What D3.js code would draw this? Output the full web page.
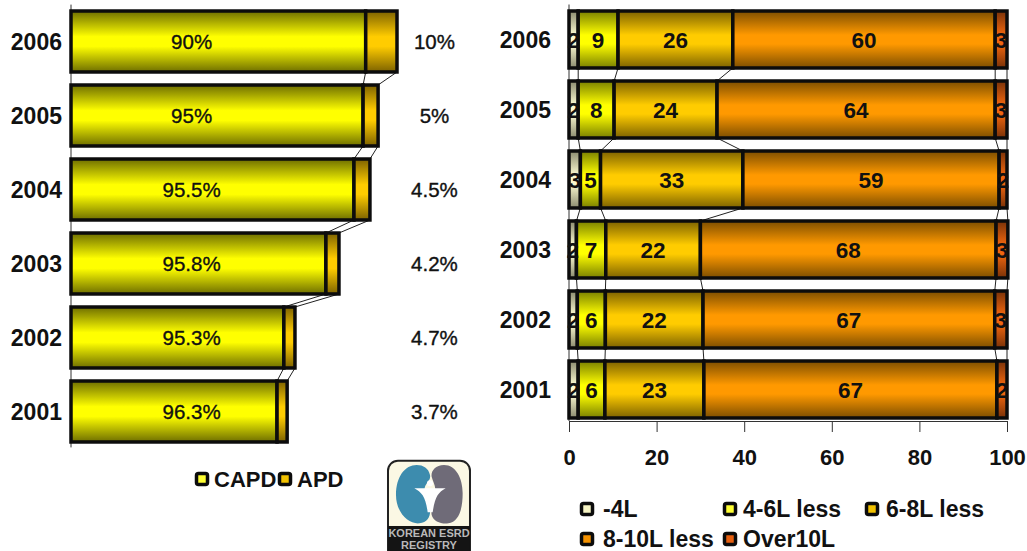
<!DOCTYPE html>
<html>
<head>
<meta charset="utf-8">
<script src="https://cdn.jsdelivr.net/npm/d3@7"></script>
<style>
  html, body { margin: 0; padding: 0; background: #fff; overflow: hidden; }
  text { font-family: "Liberation Sans", Arial, sans-serif; fill: #111; }
  .bold { font-weight: bold; }
  .medium { stroke: #111; stroke-width: 0.35px; }
</style>
</head>
<body>
<svg id="chart"></svg>
<script>
const years = ["2006", "2005", "2004", "2003", "2002", "2001"];

// left chart, bar lengths relative to the 2006 bar
const capdValues = [90.4, 89.6, 86.8, 78.2, 65.3, 63.2];
const apdValues = [9.6, 4.6, 4.9, 4.0, 3.4, 3.1];
const capdLabels = ["90%", "95%", "95.5%", "95.8%", "95.3%", "96.3%"];
const apdLabels = ["10%", "5%", "4.5%", "4.2%", "4.7%", "3.7%"];
const leftNames = ["CAPD", "APD"];

// right chart, labels on the bars are these values rounded
const volumeNames = ["-4L", "4-6L less", "6-8L less", "8-10L less", "Over10L"];
const under4 = [2.1, 2.1, 2.6, 1.7, 1.9, 2.1];
const from4to6 = [9.1, 8.2, 4.6, 6.7, 6.4, 6.1];
const from6to8 = [26.2, 23.5, 32.5, 21.6, 22.3, 22.6];
const from8to10 = [59.9, 63.5, 58.5, 67.5, 66.6, 66.9];
const over10 = [2.7, 2.7, 1.8, 2.7, 2.8, 2.3];
const xTicks = [0, 20, 40, 60, 80, 100];

const width = 1027;
const height = 551;

const svg = d3.select("#chart")
    .attr("width", width)
    .attr("height", height)
    .style("display", "block");

// bars are shaded dark at the edges, bright in the middle
const defs = svg.append("defs");
function addGradient(id, bright, dark) {
  const g = defs.append("linearGradient")
      .attr("id", id)
      .attr("x1", 0).attr("y1", 0).attr("x2", 0).attr("y2", 1);
  g.append("stop").attr("offset", "0%").attr("stop-color", dark);
  g.append("stop").attr("offset", "42%").attr("stop-color", bright);
  g.append("stop").attr("offset", "58%").attr("stop-color", bright);
  g.append("stop").attr("offset", "100%").attr("stop-color", dark);
}
addGradient("capd", "#ffff00", "#6e6e00");
addGradient("apd", "#ffcc00", "#7d6200");
addGradient("v0", "#fbf9cf", "#8a8a6e");
addGradient("v1", "#ffff00", "#7a8000");
addGradient("v2", "#ffcc00", "#7d6200");
addGradient("v3", "#ff9900", "#7d4e00");
addGradient("v4", "#f0660f", "#7a3208");

const swatchColors = {
  capd: "#ffff33", apd: "#f2c200",
  v0: "#f6f4c4", v1: "#ffff33", v2: "#f2c200", v3: "#f59200", v4: "#e8600f"
};

function drawStack(g, series, x, y, fills) {
  // thin series lines between the bars
  series.forEach(s => {
    for (let i = 0; i < years.length - 1; i++) {
      g.append("line")
          .attr("x1", x(s[i][1]))
          .attr("x2", x(s[i + 1][1]))
          .attr("y1", y(years[i]) + y.bandwidth())
          .attr("y2", y(years[i + 1]))
          .attr("stroke", "#222")
          .attr("stroke-width", 1);
    }
  });

  series.forEach((s, k) => {
    g.append("g").selectAll("rect")
      .data(s)
      .join("rect")
        .attr("x", d => x(d[0]))
        .attr("y", (d, i) => y(years[i]))
        .attr("width", d => x(d[1]) - x(d[0]))
        .attr("height", y.bandwidth())
        .attr("fill", "url(#" + fills[k] + ")")
        .attr("stroke", "#0c0c0c")
        .attr("stroke-width", 3.5);
  });
}

function drawYears(g, y, xPos) {
  g.append("g").selectAll("text")
    .data(years)
    .join("text")
      .attr("class", "bold")
      .attr("x", xPos)
      .attr("y", d => y(d) + y.bandwidth() / 2)
      .attr("dy", "0.36em")
      .attr("text-anchor", "end")
      .style("font-size", "23px")
      .text(d => d);
}

function drawSwatch(g, cx, cy, fill) {
  g.append("rect")
      .attr("x", cx - 5.5)
      .attr("y", cy - 5.5)
      .attr("width", 11)
      .attr("height", 11)
      .attr("rx", 2)
      .attr("fill", swatchColors[fill])
      .attr("stroke", "#0c0c0c")
      .attr("stroke-width", 3.5);
}

// ---- left chart
const leftRows = years.map((d, i) => ({ year: d, CAPD: capdValues[i], APD: apdValues[i] }));
const leftSeries = d3.stack().keys(leftNames)(leftRows);

const xLeft = d3.scaleLinear().domain([0, 100]).range([71, 397]);
const yLeft = d3.scaleBand().domain(years).range([4.5, 448.5])
    .paddingInner(0.176).paddingOuter(0.088);

const left = svg.append("g");

left.append("line")
    .attr("x1", xLeft(0)).attr("x2", xLeft(0))
    .attr("y1", 4.6).attr("y2", 447.4)
    .attr("stroke", "#333");

drawStack(left, leftSeries, xLeft, yLeft, ["capd", "apd"]);
drawYears(left, yLeft, 62);

left.append("g").selectAll("text")
  .data(capdLabels)
  .join("text")
    .attr("class", "medium")
    .attr("x", xLeft(37))
    .attr("y", (d, i) => yLeft(years[i]) + yLeft.bandwidth() / 2)
    .attr("dy", "0.36em")
    .attr("text-anchor", "middle")
    .style("font-size", "20.5px")
    .text(d => d);

left.append("g").selectAll("text")
  .data(apdLabels)
  .join("text")
    .attr("class", "medium")
    .attr("x", xLeft(111.5))
    .attr("y", (d, i) => yLeft(years[i]) + yLeft.bandwidth() / 2)
    .attr("dy", "0.36em")
    .attr("text-anchor", "middle")
    .style("font-size", "20.5px")
    .text(d => d);

// left legend
const leftLegendX = [202, 285];
leftNames.forEach((name, i) => {
  drawSwatch(left, leftLegendX[i], 479, i === 0 ? "capd" : "apd");
  left.append("text")
      .attr("class", "bold")
      .attr("x", leftLegendX[i] + 12)
      .attr("y", 487)
      .style("font-size", "22px")
      .text(name);
});

// ---- right chart
const rightRows = years.map((d, i) => ({
  year: d,
  [volumeNames[0]]: under4[i],
  [volumeNames[1]]: from4to6[i],
  [volumeNames[2]]: from6to8[i],
  [volumeNames[3]]: from8to10[i],
  [volumeNames[4]]: over10[i]
}));
const rightSeries = d3.stack().keys(volumeNames)(rightRows);

const xRight = d3.scaleLinear().domain([0, 100]).range([569, 1007]);
const yRight = d3.scaleBand().domain(years).range([4.5, 424.5])
    .paddingInner(0.186).paddingOuter(0.093);

const right = svg.append("g");

right.append("line")
    .attr("x1", 569).attr("x2", 569)
    .attr("y1", 4.5).attr("y2", 421)
    .attr("stroke", "#333");

drawStack(right, rightSeries, xRight, yRight, ["v0", "v1", "v2", "v3", "v4"]);
drawYears(right, yRight, 551);

rightSeries.forEach(s => {
  right.append("g").selectAll("text")
    .data(s)
    .join("text")
      .attr("class", "bold")
      .attr("x", d => xRight((d[0] + d[1]) / 2))
      .attr("y", (d, i) => yRight(years[i]) + yRight.bandwidth() / 2)
      .attr("dy", "0.36em")
      .attr("text-anchor", "middle")
      .style("font-size", "22.5px")
      .text(d => Math.round(d.data[s.key]));
});

const xAxis = right.append("g")
    .attr("transform", "translate(0, 421)")
    .call(d3.axisBottom(xRight).tickValues(xTicks).tickSize(11).tickPadding(17));
xAxis.selectAll("path, line").attr("stroke", "#333");
xAxis.selectAll("text")
    .attr("class", "bold")
    .style("font-family", '"Liberation Sans", Arial, sans-serif')
    .style("font-size", "22px");

// right legend
const legendX = [587, 730, 872, 587, 730];
const legendY = [509, 509, 509, 539, 539];
volumeNames.forEach((name, i) => {
  drawSwatch(right, legendX[i], legendY[i], "v" + i);
  right.append("text")
      .attr("class", "bold")
      .attr("x", legendX[i] + (i === 1 || i === 4 ? 13 : i === 2 ? 14 : 16))
      .attr("y", legendY[i] + 8)
      .style("font-size", "23px")
      .text(name);
});

// ---- registry logo
const logo = svg.append("g").attr("transform", "translate(380, 455) scale(0.3333)");
logo.append("rect")
    .attr("x", 24).attr("y", 17)
    .attr("width", 246).attr("height", 300)
    .attr("rx", 30)
    .attr("fill", "#fbf8e4")
    .attr("stroke", "#222")
    .attr("stroke-width", 6);
logo.append("path")
    .attr("d", "M110,30 C75,30 48,65 48,120 C48,172 85,208 118,205 C150,202 156,172 146,145 C140,128 130,108 135,95 C140,82 153,75 150,60 C146,40 130,30 110,30 Z")
    .attr("fill", "#3d8cae");
logo.append("path")
    .attr("d", "M192,30 C165,30 152,50 155,65 C158,78 165,88 166,102 C168,122 150,150 155,180 C160,200 185,208 205,205 C238,200 248,160 248,115 C248,70 228,30 192,30 Z")
    .attr("fill", "#6f6b78");
logo.append("path")
    .attr("d", "M103,100 L197,100 C175,112 165,125 158,172 L143,172 C137,125 125,112 103,100 Z")
    .attr("fill", "#fff");
logo.append("circle")
    .attr("cx", 150).attr("cy", 85).attr("r", 9)
    .attr("fill", "#fff");
logo.append("rect")
    .attr("x", 24).attr("y", 213)
    .attr("width", 246).attr("height", 80)
    .attr("fill", "#141414");
logo.append("text")
    .attr("class", "bold")
    .attr("x", 147).attr("y", 246)
    .attr("text-anchor", "middle")
    .style("font-size", "33px")
    .style("fill", "#b9b9b9")
    .text("KOREAN ESRD");
logo.append("text")
    .attr("class", "bold")
    .attr("x", 147).attr("y", 281)
    .attr("text-anchor", "middle")
    .style("font-size", "33px")
    .style("fill", "#b9b9b9")
    .text("REGISTRY");
</script>
</body>
</html>
